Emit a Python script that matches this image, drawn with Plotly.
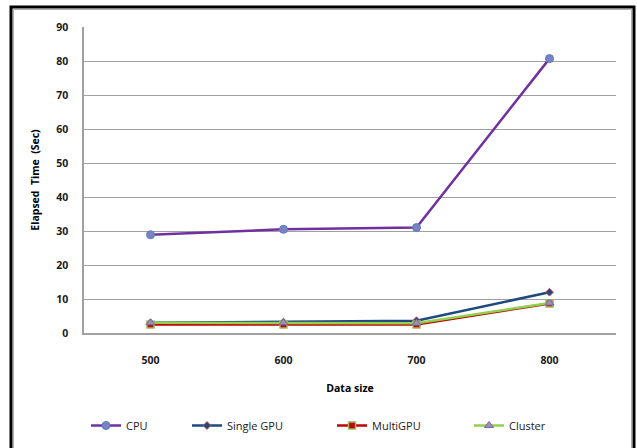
import plotly.graph_objects as go

categories = ["500", "600", "700", "800"]
cpu = [28.9, 30.5, 31.0, 80.7]
single_gpu = [3.0, 3.2, 3.6, 12.0]
multi_gpu = [2.5, 2.5, 2.5, 8.7]
cluster = [3.0, 3.0, 2.9, 8.8]
y_ticks = [0, 10, 20, 30, 40, 50, 60, 70, 80, 90]

W, H = 637, 448
L, R, T, B = 84, 616, 27, 333

def px_x(p):
    return (p - L) / (R - L)

def px_y(p):
    return (B - p) / (B - T)

fig = go.Figure()

fig.add_trace(go.Scatter(
    x=categories, y=cpu, name="CPU", mode="lines+markers", legend="legend",
    line=dict(color="#7030A0", width=2.5),
    marker=dict(symbol="circle", size=8, color="#7F7FC4", line=dict(color="#4F81BD", width=1))))
fig.add_trace(go.Scatter(
    x=categories, y=single_gpu, name="Single GPU", mode="lines+markers", legend="legend2",
    line=dict(color="#1F497D", width=2.5),
    marker=dict(symbol="diamond", size=6, color="#1F497D", line=dict(color="#C0504D", width=1))))
fig.add_trace(go.Scatter(
    x=categories, y=multi_gpu, name="MultiGPU", mode="lines+markers", legend="legend3",
    line=dict(color="#C00000", width=2.5),
    marker=dict(symbol="square", size=7, color="#C00000", line=dict(color="#9BBB59", width=1.5))))
fig.add_trace(go.Scatter(
    x=categories, y=cluster, name="Cluster", mode="lines+markers", legend="legend4",
    line=dict(color="#92D050", width=2.5),
    marker=dict(symbol="triangle-up", size=8, color="#9B8FB8", line=dict(color="#8064A2", width=1))))

shapes = [
    dict(type="rect", xref="paper", yref="paper",
         x0=px_x(11), x1=px_x(634), y0=px_y(460), y1=px_y(7),
         line=dict(color="#000000", width=3), fillcolor="rgba(0,0,0,0)"),
    dict(type="rect", xref="paper", yref="paper",
         x0=px_x(13.5), x1=px_x(631.5), y0=px_y(460), y1=px_y(9.5),
         line=dict(color="#B0B0B0", width=1), fillcolor="rgba(0,0,0,0)"),
]

def leg(px):
    return dict(orientation="h", x=px_x(px), xanchor="left", y=px_y(411), yanchor="top",
                font=dict(size=11, color="#1a1a1a"), itemwidth=30,
                bgcolor="rgba(0,0,0,0)")

fig.update_layout(
    width=W, height=H,
    margin=dict(l=L, r=W - R, t=T, b=H - B, pad=0, autoexpand=False),
    paper_bgcolor="white", plot_bgcolor="white",
    font=dict(family="Open Sans, DejaVu Sans, sans-serif", size=10, color="#000000"),
    showlegend=True,
    legend=leg(86), legend2=leg(187), legend3=leg(332), legend4=leg(469),
    xaxis=dict(type="category", categoryorder="array", categoryarray=categories,
               range=[-0.5, 3.5], showgrid=False, showline=True, linecolor="#A0A0A0",
               linewidth=1.5, ticks="", ticklabelstandoff=17,
               tickfont=dict(size=10.5, color="#1a1a1a", weight="bold"),
               title=dict(text="<b>Data size</b>", font=dict(size=10.5), standoff=18),
               zeroline=False),
    yaxis=dict(range=[0, 90], tickvals=y_ticks, showgrid=True, gridcolor="#A0A0A0",
               gridwidth=1.2, showline=True, linecolor="#A0A0A0", linewidth=1.5, ticks="",
               ticklabelstandoff=12,
               tickfont=dict(size=10.5, color="#1a1a1a", weight="bold"),
               title=dict(text="<b>Elapsed  Time  (Sec)</b>", font=dict(size=10.5), standoff=14),
               zeroline=False),
    shapes=shapes,
)

fig.write_html("out.html", config={"displayModeBar": False},
               post_script="document.body.style.margin='0';document.body.style.overflow='hidden';")
